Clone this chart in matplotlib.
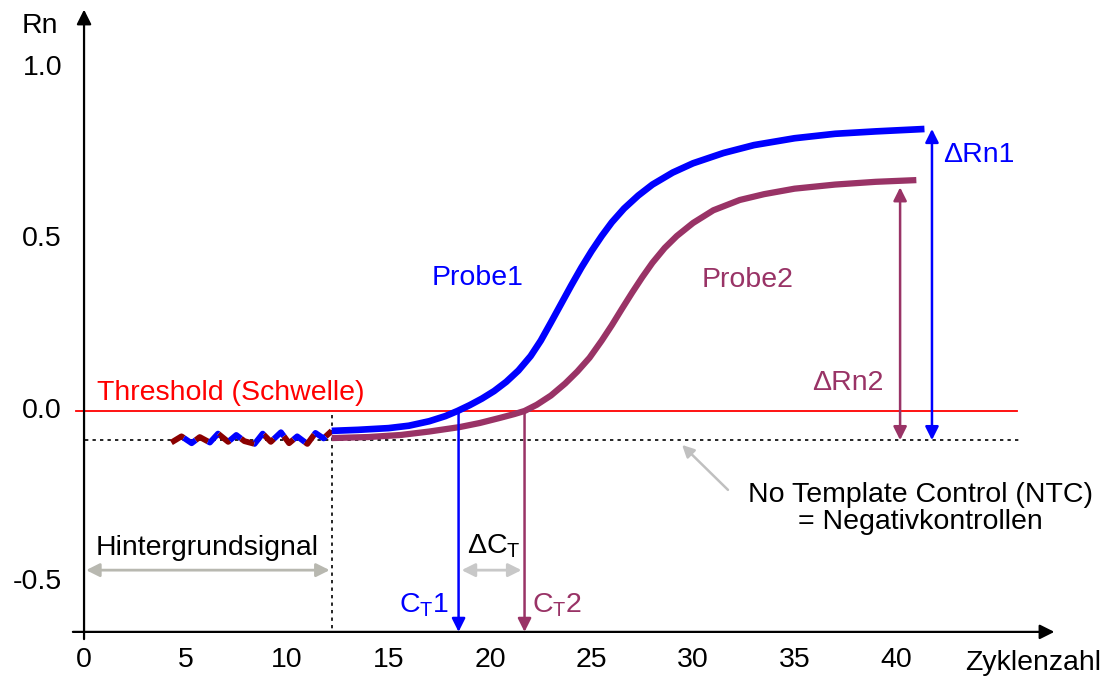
import matplotlib.pyplot as plt

plt.rcParams['font.family'] = ['Liberation Sans', 'DejaVu Sans']
plt.rcParams['mathtext.fontset'] = 'custom'
plt.rcParams['mathtext.rm'] = 'Liberation Sans'

BLUE = '#0000ff'
PURPLE = '#993366'
RED = '#ff0000'
GRAY = '#b8b8b0'

# amplification curves (cycle, Rn)
probe1_x = [12.2, 13.5, 15.0, 16.0, 17.0, 17.8, 18.4, 19.0, 19.6, 20.2, 20.8, 21.4, 22.0,
            22.5, 23.0, 23.5, 24.0, 24.5, 25.0, 25.5, 26.0, 26.6, 27.3, 28.0, 29.0, 30.0,
            31.5, 33.0, 35.0, 37.0, 39.0, 41.4]
probe1_y = [-0.058, -0.055, -0.050, -0.043, -0.030, -0.015, 0.0, 0.017, 0.036, 0.058, 0.085,
            0.118, 0.160, 0.205, 0.258, 0.312, 0.366, 0.418, 0.466, 0.510, 0.550, 0.590,
            0.628, 0.660, 0.695, 0.722, 0.752, 0.775, 0.795, 0.808, 0.815, 0.822]
probe2_x = [12.2, 14.0, 15.6, 17.0, 18.5, 19.5, 20.5, 21.2, 21.7, 22.3, 23.0, 23.7, 24.3,
            24.9, 25.5, 26.0, 26.5, 27.0, 27.5, 28.0, 28.6, 29.2, 30.0, 31.0, 32.3, 33.5,
            35.0, 37.0, 39.0, 41.0]
probe2_y = [-0.079, -0.076, -0.070, -0.060, -0.047, -0.035, -0.020, -0.009, 0.0, 0.018,
            0.045, 0.080, 0.115, 0.155, 0.205, 0.250, 0.298, 0.345, 0.390, 0.432, 0.475,
            0.510, 0.548, 0.585, 0.615, 0.632, 0.648, 0.660, 0.668, 0.673]

# background noise before cycle 12
noise_x = [4.3, 4.8, 5.3, 5.7, 6.2, 6.6, 7.1, 7.5, 7.9, 8.4, 8.8, 9.2, 9.7, 10.1,
           10.5, 11.0, 11.4, 11.8, 12.2]
noise_y = [-0.092, -0.074, -0.094, -0.076, -0.092, -0.066, -0.090, -0.070, -0.088,
           -0.096, -0.066, -0.090, -0.062, -0.094, -0.074, -0.096, -0.064, -0.080, -0.058]

threshold = 0.0
ntc_level = -0.085
background_end = 12.2
ct1 = 18.45
ct2 = 21.7
plateau1 = 0.822
plateau2 = 0.652

x_ticks = [0, 5, 10, 15, 20, 25, 30, 35, 40]
y_ticks = [1.0, 0.5, 0.0, -0.5]
y_tick_labels = ['1.0', '0.5', '0.0', '-0.5']

fig = plt.figure(figsize=(11.1, 6.76), dpi=100)
ax = fig.add_axes([0, 0, 1, 1])
ax.set_xlim(-4.14, 50.54)
ax.set_ylim(-0.7726, 1.198)
ax.axis('off')

axis_y = -0.644

# axes with arrows
ax.annotate('', xy=(0, 1.17), xytext=(0, -0.665),
            arrowprops=dict(arrowstyle='-|>', color='black', lw=1.6, mutation_scale=22,
                            shrinkA=0, shrinkB=0))
ax.annotate('', xy=(47.8, axis_y), xytext=(-0.55, axis_y),
            arrowprops=dict(arrowstyle='-|>', color='black', lw=1.6, mutation_scale=22,
                            shrinkA=0, shrinkB=0))

fs = 20.5
for xt in x_ticks:
    ax.text(xt, -0.726, str(xt), ha='center', va='center', fontsize=fs)
for yt, lab in zip(y_ticks, y_tick_labels):
    ax.text(-1.08, yt, lab, ha='right', va='center', fontsize=fs)
ax.text(-2.17, 1.122, 'Rn', ha='center', va='center', fontsize=fs)
ax.text(50.1, -0.735, 'Zyklenzahl', ha='right', va='center', fontsize=fs)

# threshold and NTC baseline
ax.plot([-0.4, 45.96], [threshold, threshold], color=RED, lw=1.3)
ax.text(0.64, 0.052, 'Threshold (Schwelle)', color=RED, ha='left', va='center', fontsize=fs)
ax.plot([0.05, 46.2], [ntc_level, ntc_level], color='black', lw=1.2, linestyle=(0, (2, 2.5)))
ax.plot([background_end, background_end], [-0.012, axis_y], color='black', lw=1.2,
        linestyle=(0, (2, 2.5)))

# noise
ax.plot(noise_x, noise_y, color='#8b0000', lw=4.2, linestyle=(0, (2.5, 2.5)),
        solid_capstyle='butt')
ax.plot(noise_x, noise_y, color=BLUE, lw=4.2, linestyle=(2.5, (2.5, 2.5)),
        solid_capstyle='butt')

# curves
ax.plot(probe2_x, probe2_y, color=PURPLE, lw=4.5, solid_capstyle='butt', solid_joinstyle='round')
ax.plot(probe1_x, probe1_y, color=BLUE, lw=4.8, solid_capstyle='butt', solid_joinstyle='round')
ax.text(19.4, 0.388, 'Probe1', color=BLUE, ha='center', va='center', fontsize=fs)
ax.text(32.7, 0.382, 'Probe2', color=PURPLE, ha='center', va='center', fontsize=fs)

# CT arrows
for ct, col in [(ct1, BLUE), (ct2, PURPLE)]:
    ax.annotate('', xy=(ct, axis_y), xytext=(ct, threshold),
                arrowprops=dict(arrowstyle='-|>', color=col, lw=1.8, mutation_scale=20,
                                shrinkA=0, shrinkB=0))
ax.text(18.0, -0.566, r'C$_\mathrm{T}$1', color=BLUE, ha='right', va='center', fontsize=fs)
ax.text(22.05, -0.566, r'C$_\mathrm{T}$2', color=PURPLE, ha='left', va='center', fontsize=fs)

# delta CT
ax.annotate('', xy=(ct2 - 0.15, -0.464), xytext=(ct1 + 0.15, -0.464),
            arrowprops=dict(arrowstyle='<|-|>', color='#c8c8c8', lw=2, mutation_scale=20,
                            shrinkA=0, shrinkB=0))
ax.text(20.2, -0.395, r'ΔC$_\mathrm{T}$', ha='center', va='center', fontsize=fs)

# background arrow
ax.annotate('', xy=(background_end - 0.1, -0.464), xytext=(0.1, -0.464),
            arrowprops=dict(arrowstyle='<|-|>', color=GRAY, lw=2, mutation_scale=20,
                            shrinkA=0, shrinkB=0))
ax.text(6.06, -0.40, 'Hintergrundsignal', ha='center', va='center', fontsize=fs)

# delta Rn arrows
ax.annotate('', xy=(41.77, plateau1), xytext=(41.77, ntc_level),
            arrowprops=dict(arrowstyle='<|-|>', color=BLUE, lw=1.8, mutation_scale=20,
                            shrinkA=0, shrinkB=0))
ax.annotate('', xy=(40.2, plateau2), xytext=(40.2, ntc_level),
            arrowprops=dict(arrowstyle='<|-|>', color=PURPLE, lw=1.8, mutation_scale=20,
                            shrinkA=0, shrinkB=0))
ax.text(42.3, 0.746, 'ΔRn1', color=BLUE, ha='left', va='center', fontsize=fs)
ax.text(37.6, 0.082, 'ΔRn2', color=PURPLE, ha='center', va='center', fontsize=fs)

# NTC annotation
ax.annotate('', xy=(29.46, -0.099), xytext=(31.72, -0.230),
            arrowprops=dict(arrowstyle='-|>', color='#c0c0c0', lw=1.8, mutation_scale=18,
                            shrinkA=0, shrinkB=0))
ax.text(41.2, -0.283, 'No Template Control (NTC)\n= Negativkontrollen', ha='center',
        va='center', fontsize=fs, linespacing=1.05)

fig.savefig('out.png', dpi=100)
